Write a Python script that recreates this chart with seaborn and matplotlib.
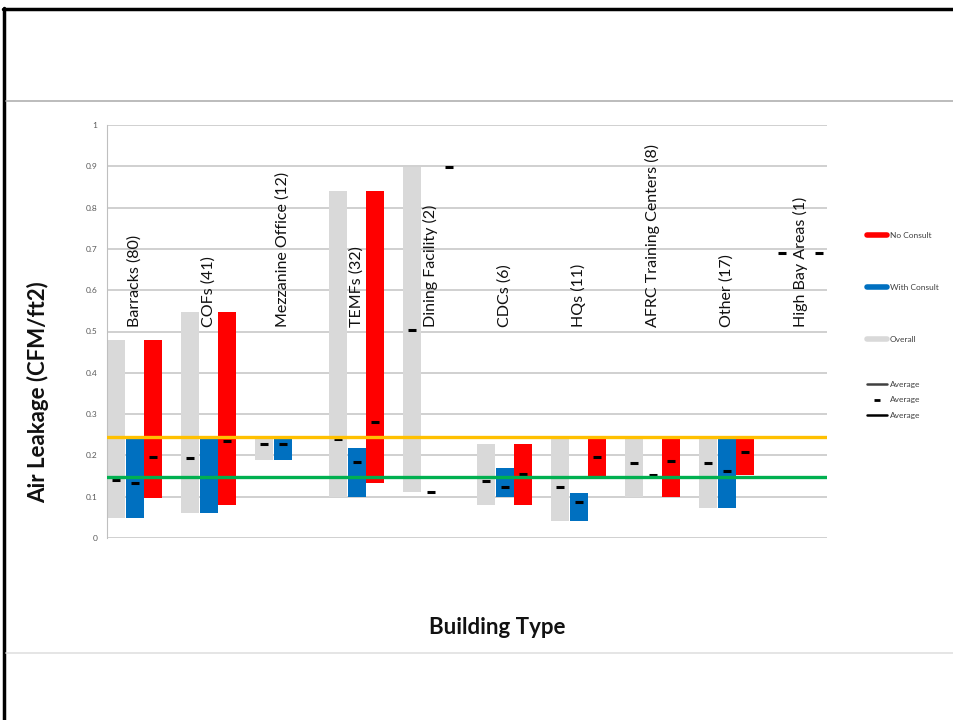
import numpy as np
import pandas as pd
import matplotlib.pyplot as plt
from matplotlib.lines import Line2D
import seaborn as sns

categories = ["Barracks (80)", "COFs (41)", "Mezzanine Office (12)", "TEMFs (32)",
              "Dining Facility (2)", "CDCs (6)", "HQs (11)", "AFRC Training Centers (8)",
              "Other (17)", "High Bay Areas (1)"]

nan = np.nan
# overall range + average
overall_min = [0.048, 0.060, 0.190, 0.100, 0.112, 0.080, 0.040, 0.100, 0.072, 0.690]
overall_max = [0.479, 0.548, 0.239, 0.839, 0.898, 0.227, 0.240, 0.248, 0.239, 0.690]
overall_avg = [0.140, 0.193, 0.227, 0.240, 0.504, 0.139, 0.124, 0.182, 0.182, 0.690]

# with consult
with_min = [0.048, 0.060, 0.190, 0.100, 0.111, 0.100, 0.040, 0.152, 0.072, nan]
with_max = [0.239, 0.239, 0.239, 0.217, 0.111, 0.170, 0.108, 0.152, 0.239, nan]
with_avg = [0.134, 0.147, 0.227, 0.183, 0.111, 0.124, 0.086, 0.152, 0.163, nan]

# no consult
no_min = [0.096, 0.080, nan, 0.132, 0.899, 0.080, 0.142, 0.100, 0.153, 0.690]
no_max = [0.479, 0.548, nan, 0.839, 0.899, 0.227, 0.239, 0.248, 0.239, 0.690]
no_avg = [0.197, 0.235, nan, 0.280, 0.899, 0.154, 0.195, 0.187, 0.209, 0.690]

upper_target = 0.245
lower_target = 0.148

sns.set_style("white")
plt.rcParams["font.family"] = ["Lato", "DejaVu Sans"]

fig = plt.figure(figsize=(9.54, 7.2), dpi=100)
ax = fig.add_axes([107 / 954, 1 - 538 / 720, 720 / 954, 413 / 720])

series = [("Overall", overall_min, overall_max, overall_avg, "#d9d9d9", 0.125),
          ("With Consult", with_min, with_max, with_avg, "#0070c0", 0.375),
          ("No Consult", no_min, no_max, no_avg, "#ff0000", 0.625)]

bar_w = 0.247
idx = np.arange(len(categories))
for name, lo, hi, avg, col, off in series:
    df = pd.DataFrame({"pos": idx + off, "lo": lo, "hi": hi, "avg": avg})
    bars = df.dropna(subset=["lo"]).copy()
    bars["span"] = bars["hi"] - bars["lo"]
    sns.barplot(data=bars, x="pos", y="span", bottom=bars["lo"].to_numpy(),
                native_scale=True, orient="x", width=bar_w, color=col, saturation=1,
                errorbar=None, linewidth=0, zorder=2, ax=ax)
    marks = df.dropna(subset=["avg"])
    sns.scatterplot(data=marks, x="pos", y="avg", marker="_", s=36, linewidth=2.2,
                    color="black", zorder=3, legend=False, ax=ax)

ax.axhline(upper_target, color="#ffc000", lw=2.4, zorder=4)
ax.axhline(lower_target, color="#00b050", lw=2.4, zorder=4)

for i, cat in enumerate(categories):
    ax.text(i + 0.375, 0.51, cat, rotation=90, ha="center", va="bottom",
            fontsize=11.5, color="#111111", zorder=5)

ax.set_xlim(0, 9.73)
ax.set_ylim(0, 1)
yt = np.round(np.arange(0, 1.01, 0.1), 1)
ax.set_yticks(yt)
ax.set_yticklabels([f"{v:g}" for v in yt], fontsize=6, color="#595959")
ax.set_xticks([])
ax.set_xlabel("")
ax.set_ylabel("")
ax.yaxis.grid(True, color="#c8c8c8", lw=1.2)
ax.set_axisbelow(True)
ax.tick_params(axis="y", length=3, color="#bfbfbf", pad=4)
for s in ["top", "right", "bottom"]:
    ax.spines[s].set_visible(False)
ax.spines["left"].set_color("#bfbfbf")

fig.text(38 / 954, 1 - 392 / 720, "Air Leakage (CFM/ft2)", rotation=90,
         ha="center", va="center", fontsize=16, fontweight="bold", color="#111111")
fig.text(497 / 954, 1 - 627 / 720, "Building Type", ha="center", va="center",
         fontsize=16, fontweight="bold", color="#111111")

# legend
h_main = [Line2D([], [], color="#ff0000", lw=4),
          Line2D([], [], color="#0070c0", lw=4),
          Line2D([], [], color="#d9d9d9", lw=4)]
fig.legend(h_main, ["No Consult", "With Consult", "Overall"], loc="center left",
           bbox_to_anchor=(863 / 954, 1 - 287 / 720), frameon=False, fontsize=6,
           handlelength=2.4, handletextpad=0.3, labelspacing=5.4, borderpad=0,
           labelcolor="#404040")
h_avg = [Line2D([], [], color="#404040", lw=1.8),
         Line2D([], [], color="black", marker="_", ls="none", ms=5, mew=2),
         Line2D([], [], color="black", lw=1.8)]
fig.legend(h_avg, ["Average", "Average", "Average"], loc="center left",
           bbox_to_anchor=(863 / 954, 1 - 400 / 720), frameon=False, fontsize=6,
           handlelength=2.4, handletextpad=0.3, labelspacing=1.0, borderpad=0,
           labelcolor="#404040")

# slide frame
fig.add_artist(Line2D([4.5 / 954, 4.5 / 954], [0, 1 - 7.5 / 720], color="black", lw=2.5))
fig.add_artist(Line2D([3 / 954, 1], [1 - 8.5 / 720] * 2, color="black", lw=2.5))
fig.add_artist(Line2D([6 / 954, 1], [1 - 100.5 / 720] * 2, color="#b0b0b0", lw=1.2))
fig.add_artist(Line2D([6 / 954, 1], [1 - 652.5 / 720] * 2, color="#e0e0e0", lw=1.2))

fig.savefig("out.png", dpi=100)
